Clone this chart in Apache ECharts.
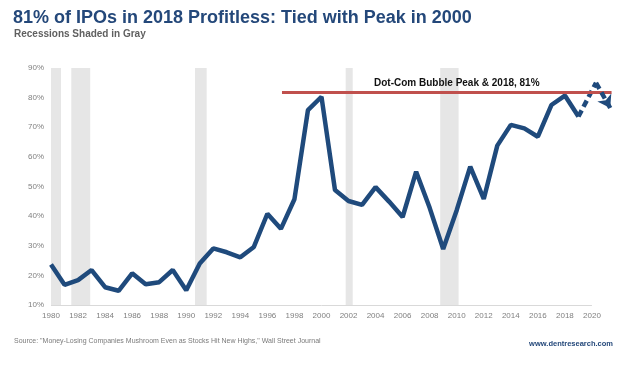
<!DOCTYPE html>
<html>
<head>
<meta charset="utf-8">
<script src="https://cdn.jsdelivr.net/npm/echarts@6/dist/echarts.min.js"></script>
<style>
  html, body { margin: 0; padding: 0; background: #fff; }
  #main { width: 641px; height: 376px; }
</style>
</head>
<body>
<div id="main"></div>
<script>
// share of IPOs with losses, by year
var years = [1980, 1981, 1982, 1983, 1984, 1985, 1986, 1987, 1988, 1989,
             1990, 1991, 1992, 1993, 1994, 1995, 1996, 1997, 1998, 1999,
             2000, 2001, 2002, 2003, 2004, 2005, 2006, 2007, 2008, 2009,
             2010, 2011, 2012, 2013, 2014, 2015, 2016, 2017, 2018, 2019];
var pctLoss = [23.7, 16.8, 18.4, 21.8, 16, 14.8, 20.7, 17, 17.7, 21.8,
               15, 24, 29.1, 27.8, 26.1, 29.6, 40.8, 35.7, 45.7, 75.8,
               80.3, 48.8, 45.1, 43.8, 49.8, 44.9, 39.7, 55, 42.8, 28.9,
               42, 56.7, 45.8, 63.8, 70.8, 69.6, 66.8, 77.5, 80.7, 73.6];
// dashed projection after 2019
var projYears = [2019, 2020.3, 2021.35];
var projPct = [73.6, 85, 76.5];
// recessions (gray bands)
var recStart = [1980, 1981.5, 1990.65, 2001.79, 2008.78];
var recEnd = [1980.74, 1982.9, 1991.51, 2002.31, 2010.14];
// peak reference line
var peakLevel = 81.7;
var peakFrom = 1997.08, peakTo = 2021.45;
var peakText = 'Dot-Com Bubble Peak & 2018, 81%';

var navy = '#1f4a7c';
var font = 'Liberation Sans, Arial, sans-serif';

var mainData = years.map(function (y, i) { return [y, pctLoss[i]]; });
var recAreas = recStart.map(function (s, i) { return [{ xAxis: s }, { xAxis: recEnd[i] }]; });

var chart = echarts.init(document.getElementById('main'));
chart.setOption({
  animation: false,
  textStyle: { fontFamily: font },
  grid: { left: 51, right: 22, top: 68, bottom: 71 },
  xAxis: {
    type: 'value',
    min: 1980,
    max: 2022,
    interval: 2,
    axisLine: { show: false },
    axisTick: { show: false },
    splitLine: { show: false },
    axisLabel: {
      color: '#808080',
      fontSize: 8,
      margin: 7,
      formatter: function (v) { return v <= 2020 ? v : ''; }
    }
  },
  yAxis: {
    type: 'value',
    min: 10,
    max: 90,
    interval: 10,
    axisLine: { show: false },
    axisTick: { show: false },
    splitLine: { show: false },
    axisLabel: { color: '#808080', fontSize: 8, margin: 7, formatter: '{value}%' }
  },
  graphic: [
    { type: 'text', left: 13, top: 9,
      style: { text: '81% of IPOs in 2018 Profitless: Tied with Peak in 2000', fill: '#24487a',
               font: 'bold 18px ' + font } },
    { type: 'text', left: 14, top: 29,
      style: { text: 'Recessions Shaded in Gray', fill: '#606060', font: 'bold 10px ' + font } },
    { type: 'text', left: 14, top: 338,
      style: { text: 'Source: "Money-Losing Companies Mushroom Even as Stocks Hit New Highs," Wall Street Journal',
               fill: '#7a7a7a', font: '7px ' + font } },
    { type: 'text', right: 28, top: 340,
      style: { text: 'www.dentresearch.com', fill: '#24487a', font: 'bold 7.5px ' + font } }
  ],
  series: [
    {
      type: 'line',
      data: [],
      z: 1,
      markArea: {
        silent: true,
        itemStyle: { color: '#e6e6e6' },
        data: recAreas
      }
    },
    {
      type: 'line',
      data: mainData,
      z: 3,
      symbol: 'none',
      lineStyle: { color: navy, width: 4.5 },
      markLine: {
        silent: true,
        symbol: 'none',
        data: [
          [{ coord: [1980, 10], lineStyle: { color: '#d9d9d9', width: 1, type: 'solid' } },
           { coord: [2020, 10] }],
          [{ coord: [peakFrom, peakLevel], lineStyle: { color: '#c0504d', width: 3, type: 'solid' },
             label: { show: true, formatter: peakText, position: 'insideMiddleTop', distance: 4,
                      offset: [10, 0], color: '#111', fontWeight: 'bold', fontSize: 10, fontFamily: font } },
           { coord: [peakTo, peakLevel] }]
        ],
        label: { show: false }
      }
    },
    {
      type: 'line',
      data: projYears.slice(0, 2).map(function (y, i) { return [y, projPct[i]]; }),
      z: 4,
      symbol: 'none',
      lineStyle: { color: navy, width: 4.5, type: [7, 4] },
      markLine: {
        silent: true,
        symbol: ['none', 'arrow'],
        symbolSize: 12,
        label: { show: false },
        lineStyle: { color: navy, width: 4.5, type: [7, 4] },
        data: [[{ coord: [projYears[1], projPct[1]] }, { coord: [projYears[2], projPct[2]] }]]
      }
    }
  ]
});
</script>
</body>
</html>
